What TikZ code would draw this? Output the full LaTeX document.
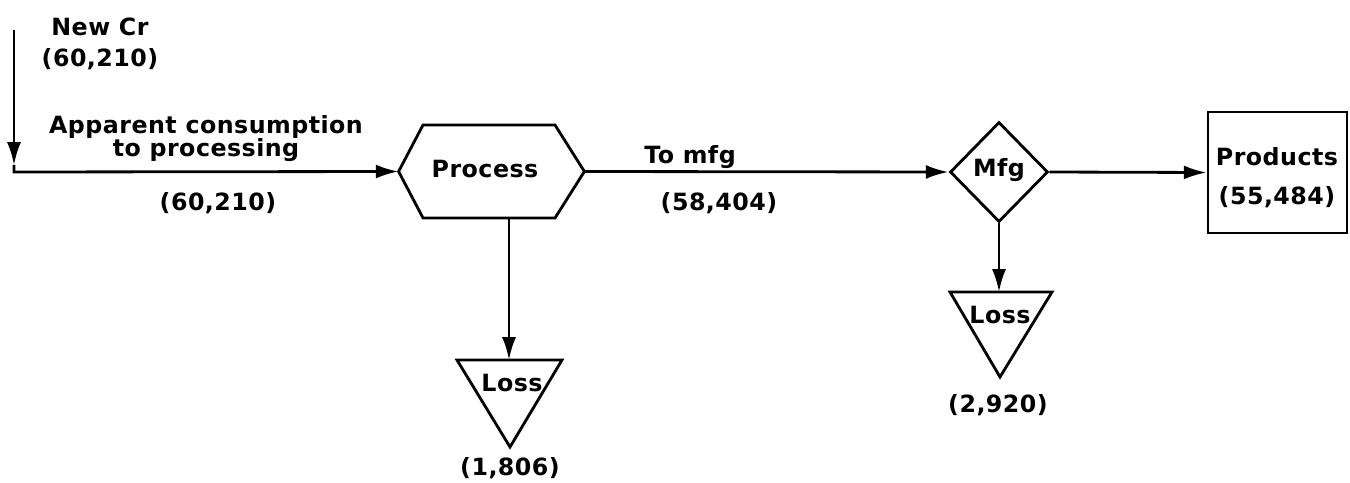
\documentclass[tikz,border=0pt]{standalone}
\usepackage{fontspec}
\setmainfont{DejaVu Sans}[LetterSpace=2]
\usetikzlibrary{arrows.meta,shapes.geometric}
\begin{document}
\begin{tikzpicture}[x=0.02cm,y=-0.02cm,
  line width=1.6pt,
  flow/.style={-{Latex[length=13pt,width=8pt]}},
  lbl/.style={font=\fontsize{13.5}{16}\selectfont\bfseries, inner sep=0pt, align=center},
  box/.style={inner sep=0pt}
]
\useasboundingbox (0,0) rectangle (1350,483);
% source
\coordinate (src) at (14,30);
\coordinate (mid) at (14,165);
\coordinate (bend) at (14,172);
\node[lbl] (newcr) at (100,27) {New Cr};
\node[lbl] (newcrv) at (100,59) {(60,210)};
\node[lbl] (app) at (206,127) {Apparent consumption};
\node[lbl] (app2) at (206,150) {to processing};
\node[lbl] (appv) at (218,203) {(60,210)};
% process hexagon
\node[box, minimum width=3.66cm, minimum height=1.86cm] (proc) at (491.5,171.5) {};
\draw (proc.west) -- (423,125) -- (555,125) -- (proc.east) -- (555,218) -- (423,218) -- cycle;
\node[lbl] (proct) at (485,169) {Process};
\coordinate (procout) at (509,218);
% loss 1
\coordinate (loss1) at (509,360);
\draw (457,360) -- (562,360) -- (510,447) -- cycle;
\node[lbl] (loss1t) at (512,383) {Loss};
\node[lbl] (loss1v) at (510,468) {(1,806)};
% to mfg
\node[lbl] (tomfg) at (690,157) {To mfg};
\node[lbl] (tomfgv) at (719,203) {(58,404)};
% mfg diamond
\node[diamond, draw, minimum width=1.96cm, minimum height=2cm, inner sep=0pt] (mfg) at (999,172) {};
\node[lbl] (mfgt) at (999,170) {Mfg};
% loss 2
\coordinate (loss2) at (999,292);
\draw (950,292) -- (1052,292) -- (1000,377) -- cycle;
\node[lbl] (loss2t) at (1000,315) {Loss};
\node[lbl] (loss2v) at (998,405) {(2,920)};
% products
\node[draw, box, minimum width=2.78cm, minimum height=2.42cm] (prod) at (1277.5,172.5) {};
\node[lbl] (prodt) at (1277,157) {Products};
\node[lbl] (prodv) at (1277,197) {(55,484)};
% connectors
\draw[flow] (src) -- (mid);
\draw[flow] (mid) -- (bend) -- (proc.west);
\draw[flow] (proc.east) -- (mfg.west);
\draw[flow] (mfg.east) -- (prod.west);
\draw[flow] (procout) -- (loss1);
\draw[flow] (mfg.south) -- (loss2);
\end{tikzpicture}
\end{document}
